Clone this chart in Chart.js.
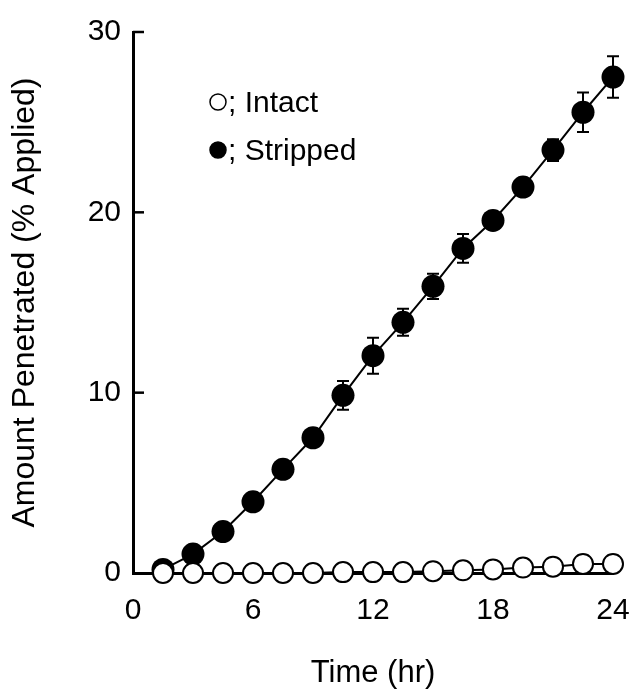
<!DOCTYPE html>
<html><head><meta charset="utf-8">
<script src="https://cdn.jsdelivr.net/npm/chart.js@4"></script>
<style>html,body{margin:0;padding:0;background:#fff}</style>
</head><body>
<canvas id="c" width="634" height="693"></canvas>
<script>
const timeHr = [1.5,3,4.5,6,7.5,9,10.5,12,13.5,15,16.5,18,19.5,21,22.5,24];
const intact = [0,0,0,0,0,0,0.05,0.05,0.05,0.1,0.15,0.2,0.3,0.35,0.5,0.5];
const intactErr = [0,0,0,0,0,0,0,0,0,0.05,0.1,0.15,0.25,0.3,0.45,0.45];
const stripped = [0.2,1.05,2.3,3.95,5.75,7.5,9.85,12.05,13.9,15.9,18.0,19.55,21.4,23.45,25.55,27.5];
const strippedErr = [0,0,0,0,0,0,0.8,1.0,0.75,0.7,0.8,0.3,0.3,0.6,1.1,1.15];
const xTicks = [0,6,12,18,24];
const yTicks = [0,10,20,30];
const seriesNames = ['Intact','Stripped'];
const legendLabels = ['; Intact','; Stripped'];
const xTitle = 'Time (hr)';
const yTitle = 'Amount Penetrated (% Applied)';

const FONT = '"Liberation Sans", Arial, Helvetica, sans-serif';

const errorBars = {
  id: 'errorBars',
  beforeDatasetsDraw(chart) {
    const ctx = chart.ctx, xs = chart.scales.x, ys = chart.scales.y;
    ctx.save();
    ctx.strokeStyle = '#000';
    ctx.lineWidth = 2;
    chart.data.datasets.forEach(ds => {
      ds.data.forEach((p, i) => {
        const e = ds.errors[i];
        if (!e) return;
        const px = xs.getPixelForValue(p.x);
        const y1 = ys.getPixelForValue(p.y + e), y2 = ys.getPixelForValue(p.y - e);
        ctx.beginPath();
        ctx.moveTo(px, y1); ctx.lineTo(px, y2);
        ctx.moveTo(px - 6, y1); ctx.lineTo(px + 6, y1);
        ctx.moveTo(px - 6, y2); ctx.lineTo(px + 6, y2);
        ctx.stroke();
      });
    });
    ctx.restore();
  }
};

const innerTicks = {
  id: 'innerTicks',
  afterDraw(chart) {
    const ctx = chart.ctx, ys = chart.scales.y;
    ctx.save();
    ctx.strokeStyle = '#000';
    ctx.lineWidth = 2.5;
    ys.ticks.forEach(t => {
      if (t.value === 0) return;
      const py = ys.getPixelForValue(t.value);
      ctx.beginPath();
      ctx.moveTo(ys.right, py); ctx.lineTo(ys.right + 11, py);
      ctx.stroke();
    });
    ctx.restore();
  }
};

const insideLegend = {
  id: 'insideLegend',
  afterDraw(chart) {
    const ctx = chart.ctx, a = chart.chartArea;
    ctx.save();
    ctx.font = '30px ' + FONT;
    ctx.fillStyle = '#000';
    ctx.textBaseline = 'alphabetic';
    chart.data.datasets.forEach((ds, i) => {
      const cx = a.left + 85, cy = a.top + 70 + i * 48;
      ctx.beginPath();
      ctx.arc(cx, cy, 8, 0, Math.PI * 2);
      ctx.fillStyle = ds.pointBackgroundColor;
      ctx.fill();
      ctx.lineWidth = 1.5;
      ctx.strokeStyle = '#000';
      ctx.stroke();
      ctx.fillStyle = '#000';
      ctx.fillText(legendLabels[i], cx + 10, cy + 10);
    });
    ctx.restore();
  }
};

new Chart(document.getElementById('c'), {
  type: 'line',
  data: {
    datasets: [
      {
        label: seriesNames[0],
        data: timeHr.map((t, i) => ({x: t, y: intact[i]})),
        errors: intactErr,
        borderColor: '#000', borderWidth: 2,
        pointRadius: 10, pointBorderWidth: 2,
        pointBackgroundColor: '#fff', pointBorderColor: '#000',
        tension: 0, clip: false
      },
      {
        label: seriesNames[1],
        data: timeHr.map((t, i) => ({x: t, y: stripped[i]})),
        errors: strippedErr,
        borderColor: '#000', borderWidth: 2,
        pointRadius: 11.5, pointBorderWidth: 0,
        pointBackgroundColor: '#000', pointBorderColor: '#000',
        tension: 0, clip: false
      }
    ]
  },
  options: {
    responsive: false,
    devicePixelRatio: 1,
    animation: false,
    layout: { padding: { left: 0, right: 21, top: 32, bottom: 0 } },
    plugins: { legend: { display: false }, tooltip: { enabled: false } },
    scales: {
      x: {
        type: 'linear', min: 0, max: 24,
        afterBuildTicks: s => { s.ticks = xTicks.map(v => ({value: v})); },
        afterFit: s => { s.height = 120; s.paddingLeft = 0; s.paddingRight = 0; },
        grid: { drawOnChartArea: false, drawTicks: false },
        border: { display: true, color: '#000', width: 3 },
        ticks: { color: '#000', font: { family: FONT, size: 30 }, padding: 20, maxRotation: 0 },
        title: { display: true, text: xTitle, color: '#000', font: { family: FONT, size: 31 }, padding: { top: 0, bottom: 1 } }
      },
      y: {
        type: 'linear', min: 0, max: 30,
        afterBuildTicks: s => { s.ticks = yTicks.map(v => ({value: v})); },
        afterFit: s => { s.width = 133; s.paddingTop = 0; s.paddingBottom = 0; },
        grid: { drawOnChartArea: false, drawTicks: false },
        border: { display: true, color: '#000', width: 3 },
        ticks: { color: '#000', font: { family: FONT, size: 30 }, padding: 12 },
        title: { display: true, text: yTitle, color: '#000', font: { family: FONT, size: 32 }, padding: { top: 6, bottom: 0 } }
      }
    }
  },
  plugins: [errorBars, innerTicks, insideLegend]
});
</script>
</body></html>
